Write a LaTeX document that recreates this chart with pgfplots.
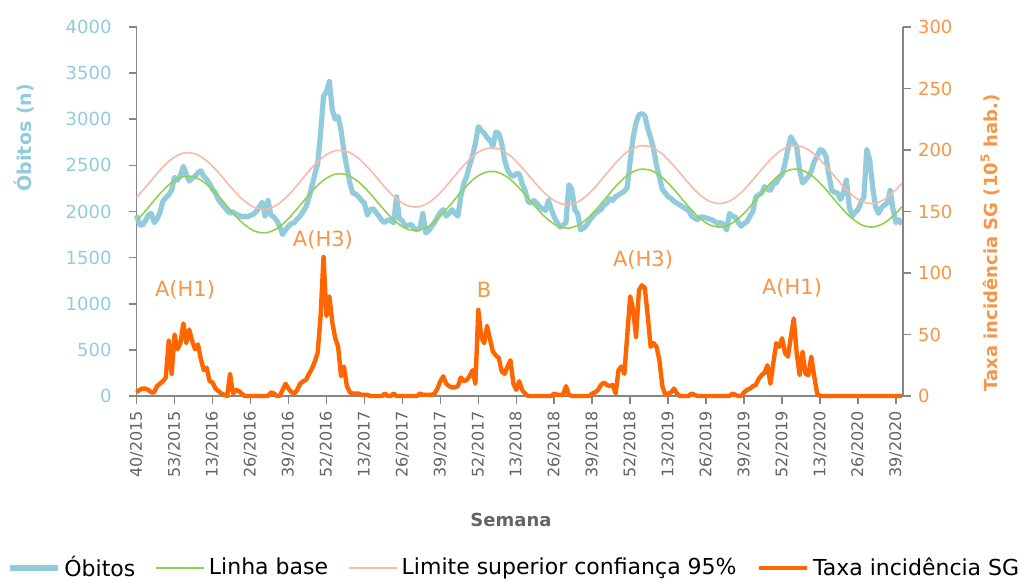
\documentclass[border=0pt]{standalone}
\usepackage{fontspec}
\setmainfont{DejaVu Sans}
\usepackage{pgfplots}
\pgfplotsset{compat=1.18}

\definecolor{obit}{RGB}{146,203,220}
\definecolor{base}{RGB}{146,208,80}
\definecolor{lim}{RGB}{248,185,168}
\definecolor{sg}{RGB}{255,102,0}
\definecolor{orlab}{RGB}{247,150,70}
\definecolor{axgray}{RGB}{134,134,134}
\definecolor{txgray}{RGB}{100,100,100}

\pgfplotsset{
  common/.style={
    width=383.2pt, height=184.5pt, scale only axis,
    xmin=0, xmax=262.4,
    /pgf/number format/assume math mode=true,
    /pgf/number format/set thousands separator={},
    tick align=outside, major tick length=4pt,
    axis line style={axgray, line width=0.8pt},
    every tick/.style={axgray, line width=0.8pt},
    clip=false,
  },
}

\begin{document}
\begin{tikzpicture}
% eixo principal: obitos
\begin{axis}[common,
  axis x line*=bottom, axis y line*=left,
  ymin=0, ymax=4000, ytick={0,500,...,4000},
  yticklabel style={obit, font=\fontsize{9}{10}\selectfont, xshift=-5pt},
  xtick={0,13,...,260},
  xticklabels={40/2015,53/2015,13/2016,26/2016,39/2016,52/2016,13/2017,26/2017,39/2017,52/2017,13/2018,26/2018,39/2018,52/2018,13/2019,26/2019,39/2019,52/2019,13/2020,26/2020,39/2020},
  xticklabel style={rotate=90, anchor=east, txgray, font=\fontsize{8}{9}\selectfont},
  ylabel={Óbitos (n)},
  ylabel style={at={(rel axis cs:-0.147,0.70)}, anchor=center, obit, font=\bfseries\fontsize{9.5}{11}\selectfont},
  xlabel={Semana},
  xlabel style={at={(rel axis cs:0.4885,-0.336)}, anchor=center, txgray, font=\bfseries\fontsize{9}{11}\selectfont},
]
\coordinate (SW) at (rel axis cs:0,0);
\coordinate (NE) at (rel axis cs:1,1);

\addplot[obit, line width=2.6pt, line join=round, no markers] coordinates {
(0,1960)(1,1860)(2,1850)(3,1900)(4,1960)(5,1980)(6,1880)(7,1920)(8,1990)(9,2110)
(10,2150)(11,2180)(12,2230)(13,2370)(14,2340)(15,2390)(16,2490)(17,2400)(18,2330)(19,2360)
(20,2380)(21,2420)(22,2440)(23,2380)(24,2350)(25,2300)(26,2240)(27,2200)(28,2130)(29,2090)
(30,2050)(31,2010)(32,1980)(33,2000)(34,1970)(35,1960)(36,1940)(37,1950)(38,1940)(39,1960)
(40,1970)(41,2000)(42,2050)(43,2100)(44,1950)(45,2120)(46,1960)(47,1940)(48,1900)(49,1840)
(50,1750)(51,1800)(52,1840)(53,1870)(54,1880)(55,1920)(56,1950)(57,2000)(58,2050)(59,2150)
(60,2270)(61,2400)(62,2520)(63,2850)(64,3250)(65,3300)(66,3410)(67,3100)(68,3000)(69,3030)
(70,2880)(71,2650)(72,2480)(73,2310)(74,2200)(75,2190)(76,2160)(77,2120)(78,2090)(79,1960)
(80,2020)(81,2030)(82,1990)(83,1950)(84,1900)(85,1880)(86,1910)(87,1900)(88,1880)(89,2160)
(90,1920)(91,1900)(92,1840)(93,1850)(94,1860)(95,1820)(96,1800)(97,1820)(98,1980)(99,1770)
(100,1790)(101,1840)(102,1880)(103,1940)(104,1990)(105,2020)(106,1950)(107,1980)(108,2020)(109,1980)
(110,1950)(111,2160)(112,2300)(113,2380)(114,2500)(115,2600)(116,2740)(117,2920)(118,2880)(119,2850)
(120,2800)(121,2770)(122,2710)(123,2860)(124,2850)(125,2740)(126,2560)(127,2450)(128,2400)(129,2380)
(130,2410)(131,2410)(132,2300)(133,2230)(134,2110)(135,2090)(136,2120)(137,2090)(138,2050)(139,2030)
(140,2010)(141,2120)(142,2020)(143,1940)(144,1880)(145,1830)(146,1850)(147,1880)(148,2290)(149,2240)
(150,2020)(151,1980)(152,1800)(153,1820)(154,1850)(155,1900)(156,1940)(157,1980)(158,2000)(159,2020)
(160,2070)(161,2090)(162,2140)(163,2120)(164,2160)(165,2180)(166,2200)(167,2220)(168,2260)(169,2550)
(170,2800)(171,2960)(172,3050)(173,3060)(174,3040)(175,2900)(176,2800)(177,2680)(178,2500)(179,2370)
(180,2240)(181,2200)(182,2160)(183,2140)(184,2110)(185,2090)(186,2070)(187,2050)(188,2030)(189,2010)
(190,1950)(191,1930)(192,1910)(193,1940)(194,1940)(195,1930)(196,1920)(197,1910)(198,1890)(199,1870)
(200,1880)(201,1860)(202,1800)(203,1980)(204,1950)(205,1940)(206,1880)(207,1840)(208,1870)(209,1890)
(210,1950)(211,2000)(212,2160)(213,2180)(214,2200)(215,2270)(216,2240)(217,2230)(218,2300)(219,2310)
(220,2370)(221,2400)(222,2520)(223,2680)(224,2810)(225,2750)(226,2700)(227,2450)(228,2310)(229,2340)
(230,2380)(231,2440)(232,2540)(233,2600)(234,2670)(235,2660)(236,2600)(237,2400)(238,2230)(239,2210)
(240,2200)(241,2130)(242,2200)(243,2340)(244,2050)(245,1950)(246,1990)(247,2020)(248,2100)(249,2160)
(250,2670)(251,2560)(252,2270)(253,2050)(254,1980)(255,2040)(256,2070)(257,2090)(258,2230)(259,2020)
(260,1880)(261,1910)(262,1860)
};

% linha base
\addplot[base, line width=0.8pt, smooth, no markers] coordinates {
(0,1897)(4,2043)(8,2193)(12,2314)(16,2378)(20,2371)(24,2295)(28,2168)(32,2019)(36,1884)
(40,1793)(44,1768)(48,1814)(52,1923)(56,2069)(60,2219)(64,2340)(68,2404)(72,2397)(76,2321)
(80,2194)(84,2045)(88,1910)(92,1819)(96,1794)(100,1840)(104,1949)(108,2095)(112,2245)(116,2366)
(120,2430)(124,2423)(128,2347)(132,2220)(136,2071)(140,1936)(144,1845)(148,1820)(152,1866)(156,1975)
(160,2121)(164,2271)(168,2392)(172,2455)(176,2446)(180,2368)(184,2239)(188,2088)(192,1951)(196,1858)
(200,1831)(204,1875)(208,1982)(212,2126)(216,2274)(220,2393)(224,2455)(228,2446)(232,2368)(236,2239)
(240,2088)(244,1951)(248,1858)(252,1831)(256,1875)(260,1982)(262,2051)
};

% limite superior
\addplot[lim, line width=0.8pt, smooth, no markers] coordinates {
(0,2152)(4,2298)(8,2448)(12,2569)(16,2633)(20,2626)(24,2550)(28,2423)(32,2274)(36,2139)
(40,2048)(44,2023)(48,2069)(52,2178)(56,2324)(60,2474)(64,2595)(68,2659)(72,2652)(76,2576)
(80,2449)(84,2300)(88,2165)(92,2074)(96,2049)(100,2095)(104,2204)(108,2350)(112,2500)(116,2621)
(120,2685)(124,2678)(128,2602)(132,2475)(136,2326)(140,2191)(144,2100)(148,2075)(152,2121)(156,2230)
(160,2376)(164,2526)(168,2647)(172,2710)(176,2701)(180,2623)(184,2494)(188,2343)(192,2206)(196,2113)
(200,2086)(204,2130)(208,2237)(212,2381)(216,2529)(220,2648)(224,2710)(228,2701)(232,2623)(236,2494)
(240,2343)(244,2206)(248,2113)(252,2086)(256,2130)(260,2237)(262,2306)
};
\end{axis}

% eixo secundario: taxa de incidencia SG
\begin{axis}[common,
  axis x line=none, axis y line*=right,
  ymin=0, ymax=300, ytick={0,50,...,300},
  yticklabel style={orlab, font=\fontsize{9}{10}\selectfont},
  ylabel={Taxa incidência SG (10\textsuperscript{5} hab.)},
  ylabel style={at={(rel axis cs:1.1135,0.415)}, anchor=center, rotate=0, orlab, font=\bfseries\fontsize{9}{11}\selectfont},
  legend style={at={(0.494,-0.466)}, anchor=center, draw=none, fill=none,
    font=\fontsize{11}{13}\selectfont, legend columns=4,
    /tikz/every even column/.append style={column sep=8pt}},
  legend image code/.code={\draw[#1] (0pt,0pt) -- (24pt,0pt);},
]
\addlegendimage{obit, line width=2.6pt}
\addlegendentry{Óbitos}
\addlegendimage{base, line width=0.8pt}
\addlegendentry{Linha base}
\addlegendimage{lim, line width=0.8pt}
\addlegendentry{Limite superior confiança 95\%}

\addplot[sg, line width=2.2pt, line join=round, no markers] coordinates {
(0,3)(1,5)(2,6)(3,6)(4,5)(5,3)(6,3)(7,8)(8,10)(9,12)
(10,15)(11,45)(12,18)(13,50)(14,38)(15,43)(16,59)(17,43)(18,54)(19,45)
(20,38)(21,42)(22,30)(23,21)(24,23)(25,12)(26,11)(27,6)(28,4)(29,2)
(30,1)(31,0)(32,18)(33,2)(34,5)(35,4)(36,2)(37,0)(38,0)(39,0)
(40,0)(41,0)(42,0)(43,0)(44,0)(45,0)(46,3)(47,2)(48,0)(49,0)
(50,5)(51,10)(52,6)(53,3)(54,2)(55,5)(56,10)(57,12)(58,13)(59,18)
(60,22)(61,28)(62,35)(63,65)(64,113)(65,65)(66,81)(67,60)(68,47)(69,40)
(70,16)(71,24)(72,8)(73,3)(74,2)(75,2)(76,2)(77,1)(78,1)(79,1)
(80,0)(81,0)(82,0)(83,0)(84,0)(85,2)(86,0)(87,0)(88,2)(89,0)
(90,0)(91,0)(92,0)(93,0)(94,0)(95,0)(96,0)(97,2)(98,1)(99,1)
(100,1)(101,1)(102,2)(103,6)(104,12)(105,16)(106,10)(107,8)(108,7)(109,7)
(110,8)(111,15)(112,12)(113,13)(114,16)(115,21)(116,10)(117,70)(118,48)(119,43)
(120,57)(121,46)(122,36)(123,33)(124,31)(125,20)(126,18)(127,24)(128,29)(129,10)
(130,5)(131,12)(132,5)(133,2)(134,0)(135,0)(136,0)(137,0)(138,0)(139,0)
(140,0)(141,0)(142,0)(143,2)(144,1)(145,1)(146,1)(147,8)(148,1)(149,0)
(150,0)(151,0)(152,0)(153,0)(154,0)(155,0)(156,2)(157,3)(158,5)(159,9)
(160,11)(161,9)(162,8)(163,9)(164,2)(165,21)(166,24)(167,18)(168,50)(169,81)
(170,70)(171,48)(172,86)(173,90)(174,88)(175,65)(176,40)(177,43)(178,40)(179,29)
(180,8)(181,1)(182,2)(183,3)(184,6)(185,2)(186,0)(187,0)(188,0)(189,0)
(190,2)(191,1)(192,0)(193,0)(194,0)(195,0)(196,0)(197,0)(198,0)(199,0)
(200,0)(201,0)(202,0)(203,0)(204,2)(205,1)(206,0)(207,0)(208,3)(209,5)
(210,6)(211,8)(212,9)(213,14)(214,17)(215,19)(216,25)(217,10)(218,27)(219,43)
(220,40)(221,47)(222,35)(223,32)(224,48)(225,63)(226,35)(227,17)(228,36)(229,18)
(230,17)(231,32)(232,16)(233,2)(234,0)(235,0)(236,0)(237,0)(238,0)(239,0)
(240,0)(241,0)(242,0)(243,0)(244,0)(245,0)(246,0)(247,0)(248,0)(249,0)
(250,0)(251,0)(252,0)(253,0)(254,0)(255,0)(256,0)(257,0)(258,0)(259,0)
(260,0)(261,0)(262,0)
};
\addlegendentry{Taxa incidência SG}

\begin{scope}[every node/.style={orlab, font=\fontsize{10.5}{12}\selectfont}]
\node at (axis cs:16.6,86) {A(H1)};
\node at (axis cs:63.8,127) {A(H3)};
\node at (axis cs:119,86) {B};
\node at (axis cs:173.4,110.6) {A(H3)};
\node at (axis cs:224.4,87.8) {A(H1)};
\end{scope}
\end{axis}

\pgfresetboundingbox
\path[use as bounding box] ([shift={(-68.3pt,-93pt)}]SW) rectangle ([shift={(58.5pt,13.5pt)}]NE);
\end{tikzpicture}
\end{document}
